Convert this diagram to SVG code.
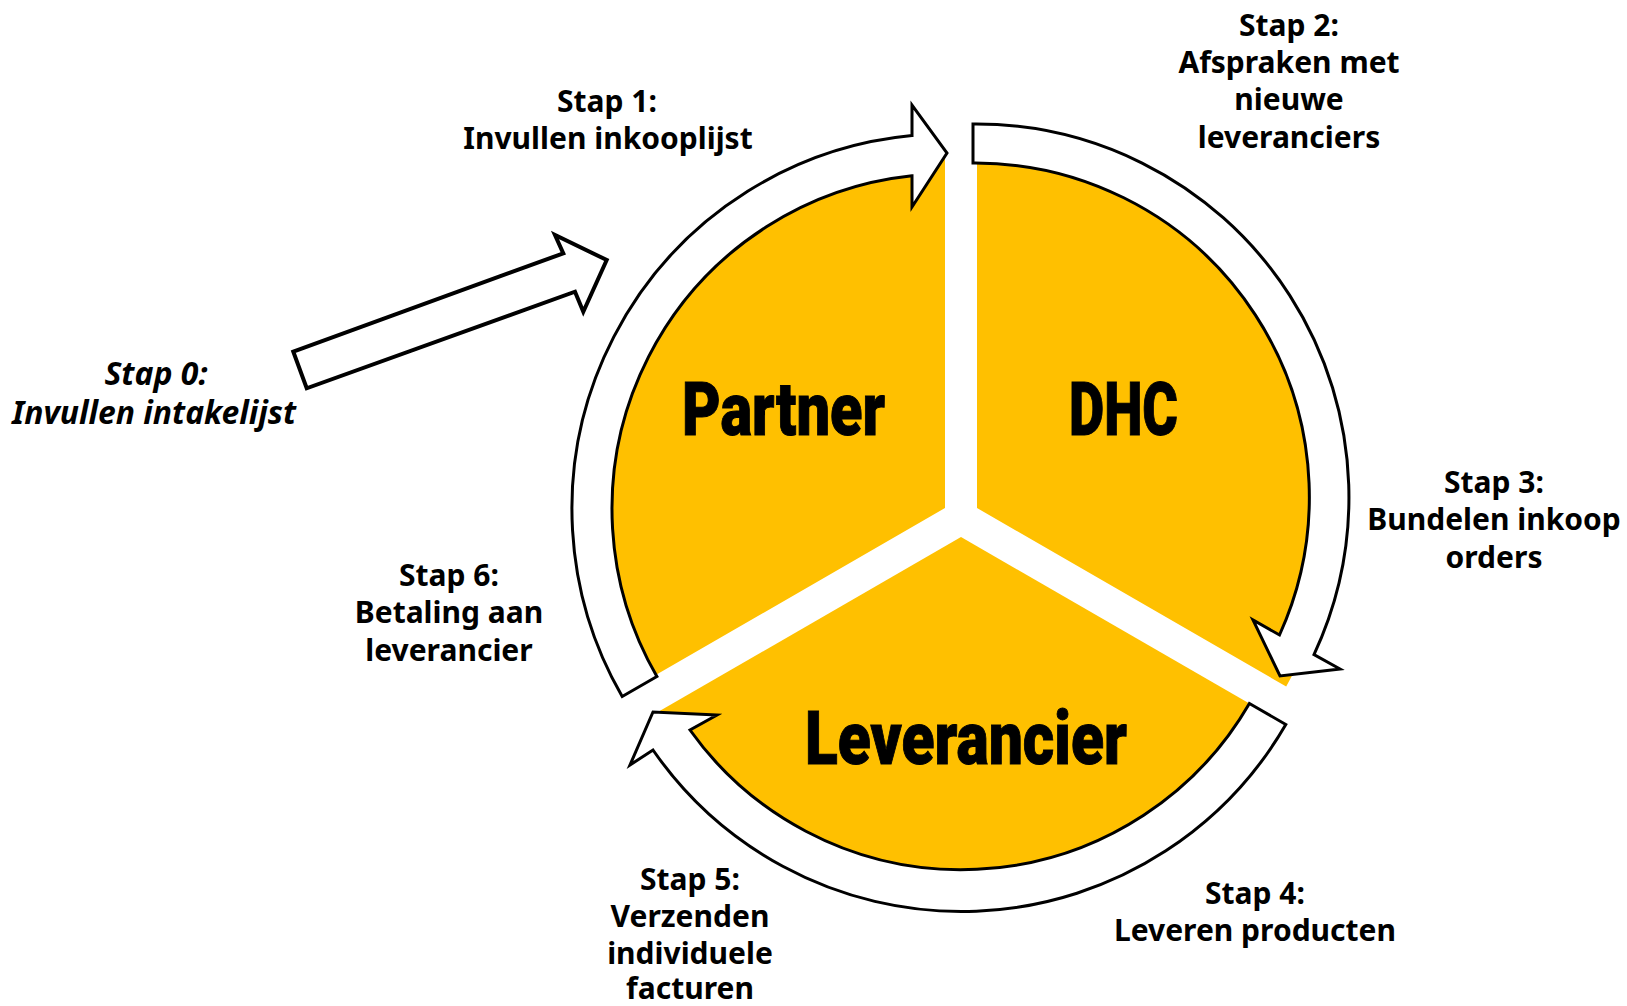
<svg xmlns="http://www.w3.org/2000/svg" width="1627" height="1006" viewBox="0 0 1627 1006">
<style>
.sector{fill:#FFC000;stroke:none}
.carrow{fill:#FFFFFF;stroke:#000000;stroke-width:3;stroke-linejoin:miter;stroke-miterlimit:10}
.sarrow{fill:#FFFFFF;stroke:#000000;stroke-width:4;stroke-linejoin:miter;stroke-miterlimit:10}
.big{font-family:Impact,Roboto,"Liberation Sans",sans-serif;font-weight:900;font-size:75px;fill:#000000;stroke:#000000;stroke-width:1;text-anchor:middle}
.lbl{font-family:"Noto Sans","DejaVu Sans",sans-serif;font-weight:bold;font-size:30px;fill:#000000;text-anchor:middle}
.it{font-style:italic;font-size:32px}
</style>
<rect width="1627" height="1006" fill="#FFFFFF"/>
<g id="node-partner">
<path class="sector" d="M945,508 L945,151 A357,357 0 0 0 635.8,686.5 Z"/>
<text class="big" x="783.5" y="435" textLength="203" lengthAdjust="spacingAndGlyphs">Partner</text>
</g>
<g id="node-dhc">
<path class="sector" d="M977,508 L977,151 A357,357 0 0 1 1286.2,686.5 Z"/>
<text class="big" x="1123.5" y="435" textLength="109" lengthAdjust="spacingAndGlyphs">DHC</text>
</g>
<g id="node-leverancier">
<path class="sector" d="M961,537 L1270.2,715.5 A357,357 0 0 1 651.8,715.5 Z"/>
<text class="big" x="966" y="764" textLength="322" lengthAdjust="spacingAndGlyphs">Leverancier</text>
</g>
<g id="connectors">
<path id="arrow-stap1" class="carrow" d="M622.2,696.5 A375,375 0 0 1 912,135.6 L912,105 L947,153 L912,207 L912,175.8 A335,335 0 0 0 656.9,676.5 Z"/>
<path id="arrow-stap2-3" class="carrow" d="M973,124 A373,373 0 0 1 1314,654.6 L1340,669 L1280,676 L1253,620 L1279.5,635 A334,334 0 0 0 973,163 Z"/>
<path id="arrow-stap4-5" class="carrow" d="M1285.8,724.5 A375,375 0 0 1 653,750 L630,765 L653,712 L717,715 L690,730 A333,333 0 0 0 1249.4,703.5 Z"/>
<path id="arrow-stap0" class="sarrow" d="M293.3,351.7 L563.3,253.3 L555,235 L606.7,260 L583.3,311.7 L575,291.7 L306.7,388.3 Z"/>
</g>
<g id="label-stap0">
<text class="lbl it" x="156" y="385">Stap 0:</text>
<text class="lbl it" x="154" y="424" textLength="284" lengthAdjust="spacingAndGlyphs">Invullen intakelijst</text>
</g>
<g id="label-stap1">
<text class="lbl" x="607" y="112">Stap 1:</text>
<text class="lbl" x="608" y="149">Invullen inkooplijst</text>
</g>
<g id="label-stap2">
<text class="lbl" x="1289" y="36">Stap 2:</text>
<text class="lbl" x="1289" y="73">Afspraken met</text>
<text class="lbl" x="1289" y="110">nieuwe</text>
<text class="lbl" x="1289" y="148">leveranciers</text>
</g>
<g id="label-stap3">
<text class="lbl" x="1494" y="493">Stap 3:</text>
<text class="lbl" x="1494" y="530">Bundelen inkoop</text>
<text class="lbl" x="1494" y="568">orders</text>
</g>
<g id="label-stap4">
<text class="lbl" x="1255" y="904">Stap 4:</text>
<text class="lbl" x="1255" y="941">Leveren producten</text>
</g>
<g id="label-stap5">
<text class="lbl" x="690" y="890">Stap 5:</text>
<text class="lbl" x="690" y="927">Verzenden</text>
<text class="lbl" x="690" y="964">individuele</text>
<text class="lbl" x="690" y="999">facturen</text>
</g>
<g id="label-stap6">
<text class="lbl" x="449" y="586">Stap 6:</text>
<text class="lbl" x="449" y="623">Betaling aan</text>
<text class="lbl" x="449" y="661">leverancier</text>
</g>
</svg>
